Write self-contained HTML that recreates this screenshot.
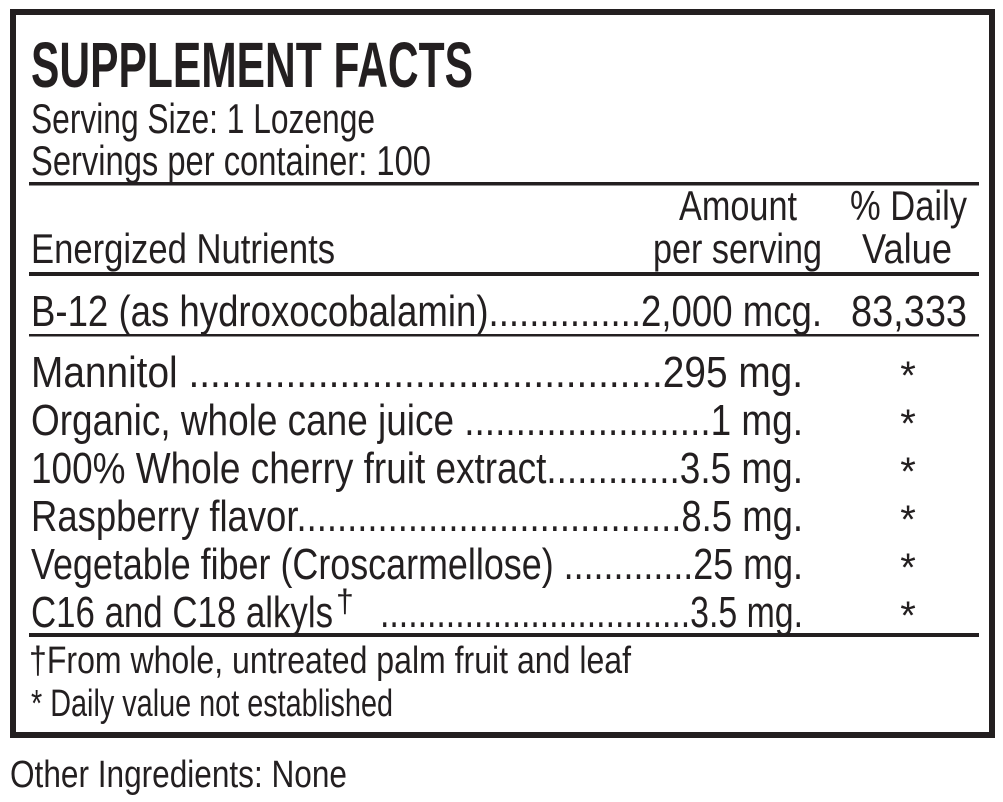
<!DOCTYPE html>
<html><head><meta charset="utf-8"><style>
html,body{margin:0;padding:0;background:#fff;width:1003px;height:802px;overflow:hidden}
svg text{font-family:"Liberation Sans",sans-serif;fill:#231f20}
</style></head><body>
<svg width="1003" height="802" viewBox="0 0 1003 802" xmlns="http://www.w3.org/2000/svg">
<rect x="13" y="12" width="979" height="723" fill="none" stroke="#231f20" stroke-width="6"/>
<rect x="29" y="182" width="950" height="3.5" fill="#231f20"/>
<rect x="29" y="272" width="950" height="4" fill="#231f20"/>
<rect x="29" y="334" width="950" height="2.5" fill="#231f20"/>
<rect x="29" y="633" width="950" height="4" fill="#231f20"/>
<text x="31" y="87" font-size="64" font-weight="bold" textLength="442" lengthAdjust="spacingAndGlyphs">SUPPLEMENT FACTS</text>
<g font-size="42">
<text x="31" y="133" textLength="344" lengthAdjust="spacingAndGlyphs">Serving Size: 1 Lozenge</text>
<text x="31" y="175" textLength="400" lengthAdjust="spacingAndGlyphs">Servings per container: 100</text>
<text x="679" y="220" textLength="118" lengthAdjust="spacingAndGlyphs">Amount</text>
<text x="653" y="263" textLength="169" lengthAdjust="spacingAndGlyphs">per serving</text>
<text x="850" y="220" textLength="117" lengthAdjust="spacingAndGlyphs">% Daily</text>
<text x="862" y="263" textLength="90" lengthAdjust="spacingAndGlyphs">Value</text>
<text x="31" y="263" textLength="304" lengthAdjust="spacingAndGlyphs">Energized Nutrients</text>
</g>
<g font-size="44">
<text x="31" y="326" textLength="791" lengthAdjust="spacingAndGlyphs">B-12 (as hydroxocobalamin)...............2,000 mcg.</text>
<text x="851" y="326" textLength="116" lengthAdjust="spacingAndGlyphs">83,333</text>
<text x="31" y="387" textLength="772" lengthAdjust="spacingAndGlyphs">Mannitol ............................................295 mg.</text>
<text x="31" y="435" textLength="772" lengthAdjust="spacingAndGlyphs">Organic, whole cane juice ........................1 mg.</text>
<text x="31" y="483" textLength="772" lengthAdjust="spacingAndGlyphs">100% Whole cherry fruit extract.............3.5 mg.</text>
<text x="31" y="531" textLength="772" lengthAdjust="spacingAndGlyphs">Raspberry flavor......................................8.5 mg.</text>
<text x="31" y="579" textLength="772" lengthAdjust="spacingAndGlyphs">Vegetable fiber (Croscarmellose) .............25 mg.</text>
<text x="31" y="627" textLength="302" lengthAdjust="spacingAndGlyphs">C16 and C18 alkyls</text>
<text x="336" y="612" font-size="32">†</text>
<text x="380" y="627" textLength="423" lengthAdjust="spacingAndGlyphs">.................................3.5 mg.</text>
<g text-anchor="middle" font-size="40">
<text x="908" y="389">*</text><text x="908" y="437">*</text><text x="908" y="485">*</text>
<text x="908" y="533">*</text><text x="908" y="581">*</text><text x="908" y="629">*</text>
</g>
</g>
<g font-size="38">
<text x="29" y="673" textLength="602" lengthAdjust="spacingAndGlyphs">†From whole, untreated palm fruit and leaf</text>
<text x="31" y="716" textLength="362" lengthAdjust="spacingAndGlyphs">* Daily value not established</text>
<text x="10" y="787" textLength="337" lengthAdjust="spacingAndGlyphs">Other Ingredients: None</text>
</g>
</svg>
</body></html>
